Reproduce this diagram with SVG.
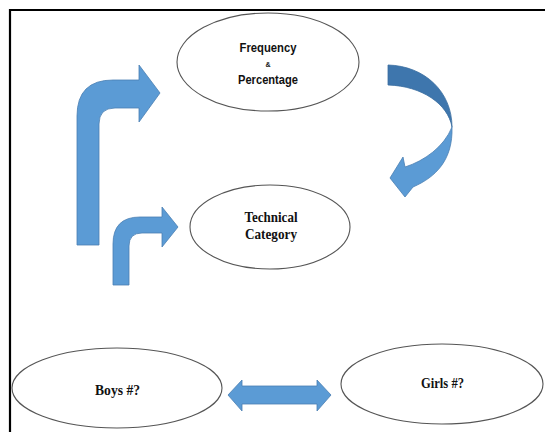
<svg xmlns="http://www.w3.org/2000/svg" width="545" height="432" viewBox="0 0 545 432">
  <style>
    .node ellipse { fill: #ffffff; stroke: #555555; stroke-width: 1.1; }
    .sans { font-family: "Liberation Sans", Arial, sans-serif; font-weight: bold; fill: #111111; text-anchor: middle; }
    .serif { font-family: "Liberation Serif", "Times New Roman", serif; font-weight: bold; fill: #111111; text-anchor: middle; }
    .arrow { fill: #5b9bd5; stroke: #4a7fb3; stroke-width: 0.8; stroke-linejoin: miter; }
    .arrow-back { fill: #3e76ad; stroke: #3a6d9f; stroke-width: 0.8; }
  </style>

  <rect width="545" height="432" fill="#ffffff"/>

  <!-- frame -->
  <g id="frame" stroke="#000000" stroke-width="2.2" fill="none">
    <line x1="9" y1="10" x2="545" y2="10"/>
    <line x1="10" y1="9" x2="10" y2="432"/>
  </g>

  <!-- connectors -->
  <g id="connectors">
    <!-- tall bent arrow up and right -->
    <path class="arrow" d="M77,245 L77,116 Q77,80 113,80 L139,80 L139,65 L160,93 L139,122 L139,108 L115,108 Q99,108 99,124 L99,245 Z"/>
    <!-- short bent arrow up and right -->
    <path class="arrow" d="M113,285 L113,244 Q113,217 140,217 L162,217 L162,207 L178,227 L162,247 L162,233 L142,233 Q129,233 129,246 L129,285 Z"/>
    <!-- curved arrow turning back to the left -->
    <path class="arrow-back" d="M388,65 C425,66 452,92 452,127 C448,104 422,86 388,85 Z"/>
    <path class="arrow" d="M452,127 C453,160 436,177 413,187 L405,197 L390,178 L403,157 L405,167 C424,161 444,147 452,127 Z"/>
    <!-- double-headed arrow -->
    <path class="arrow" d="M228,395 L242,380 L242,386 L317,386 L317,380 L331,395 L317,411 L317,404 L242,404 L242,411 Z"/>
  </g>

  <!-- nodes -->
  <g id="node-frequency" class="node">
    <ellipse cx="268" cy="62" rx="91" ry="49"/>
    <text class="sans" x="268" y="52" font-size="13.5" textLength="57" lengthAdjust="spacingAndGlyphs">Frequency</text>
    <text class="sans" x="268" y="67" font-size="7">&amp;</text>
    <text class="sans" x="268" y="84" font-size="13.5" textLength="60" lengthAdjust="spacingAndGlyphs">Percentage</text>
  </g>

  <g id="node-technical" class="node">
    <ellipse cx="270" cy="227" rx="80" ry="42"/>
    <text class="serif" x="271" y="222" font-size="14.5" textLength="53" lengthAdjust="spacingAndGlyphs">Technical</text>
    <text class="serif" x="271" y="239" font-size="14.5" textLength="52" lengthAdjust="spacingAndGlyphs">Category</text>
  </g>

  <g id="node-boys" class="node">
    <ellipse cx="117" cy="388" rx="105" ry="40"/>
    <text class="serif" x="117.5" y="395" font-size="14.5" textLength="45" lengthAdjust="spacingAndGlyphs">Boys #?</text>
  </g>

  <g id="node-girls" class="node">
    <ellipse cx="442" cy="384" rx="101" ry="40"/>
    <text class="serif" x="442.5" y="388" font-size="14.5" textLength="43" lengthAdjust="spacingAndGlyphs">Girls #?</text>
  </g>
</svg>
